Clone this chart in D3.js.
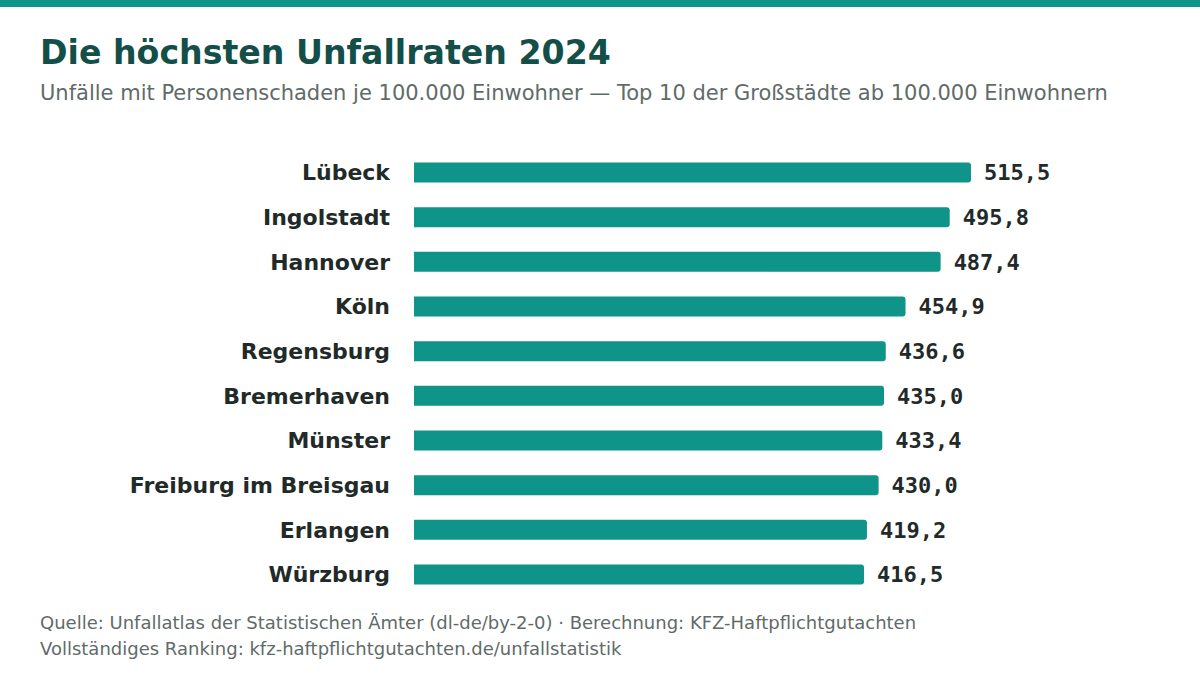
<!DOCTYPE html>
<html><head><meta charset="utf-8">
<script src="https://cdn.jsdelivr.net/npm/d3@7"></script>
<style>html,body{margin:0;padding:0;background:#fff}</style>
</head><body>
<svg id="c" width="1200" height="675"></svg>
<script>
const cities = ["Lübeck","Ingolstadt","Hannover","Köln","Regensburg","Bremerhaven","Münster","Freiburg im Breisgau","Erlangen","Würzburg"];
const rates = [515.5,495.8,487.4,454.9,436.6,435.0,433.4,430.0,419.2,416.5];
const title = "Die höchsten Unfallraten 2024";
const subtitle = "Unfälle mit Personenschaden je 100.000 Einwohner — Top 10 der Großstädte ab 100.000 Einwohnern";
const footer = ["Quelle: Unfallatlas der Statistischen Ämter (dl-de/by-2-0) · Berechnung: KFZ-Haftpflichtgutachten","Vollständiges Ranking: kfz-haftpflichtgutachten.de/unfallstatistik"];

const svg = d3.select("#c");
const teal = "#0e9488", dark = "#134e48", gray = "#5f6b69", ink = "#1f2a29";
const font = "'DejaVu Sans', sans-serif";

svg.append("rect").attr("x",0).attr("y",0).attr("width",1200).attr("height",7).attr("fill",teal);
svg.append("text").attr("x",40).attr("y",64).attr("font-family",font).attr("font-weight","bold")
  .attr("font-size",33.2).attr("fill",dark).text(title);
svg.append("text").attr("x",40).attr("y",100).attr("font-family",font)
  .attr("font-size",21).attr("fill",gray).text(subtitle);

const data = cities.map((c,i)=>({c, v:rates[i]}));
const x = d3.scaleLinear().domain([0, 515.5]).range([414, 971]);
const y = d3.scaleBand().domain(cities).range([150.2, 596.8]).paddingInner(0.552).paddingOuter(0.276);

const r = 3;
svg.append("g").selectAll("path").data(data).join("path")
  .attr("fill", teal)
  .attr("d", d => {
    const x0 = x(0), x1 = x(d.v), y0 = y(d.c), h = y.bandwidth();
    return `M${x0},${y0}H${x1-r}Q${x1},${y0} ${x1},${y0+r}V${y0+h-r}Q${x1},${y0+h} ${x1-r},${y0+h}H${x0}Z`;
  });

svg.append("g").selectAll("text").data(data).join("text")
  .attr("x", 390).attr("y", d => y(d.c)+y.bandwidth()/2).attr("dy","0.35em")
  .attr("text-anchor","end").attr("font-family",font).attr("font-weight","bold")
  .attr("font-size",22).attr("fill",ink).text(d=>d.c);

const fmt = v => v.toFixed(1).replace(".", ",");
svg.append("g").selectAll("text").data(data).join("text")
  .attr("x", d => x(d.v)+13).attr("y", d => y(d.c)+y.bandwidth()/2).attr("dy","0.35em")
  .attr("font-family","'DejaVu Sans Mono', monospace").attr("font-weight","bold")
  .attr("font-size",22).attr("fill",ink).text(d=>fmt(d.v));

svg.append("g").selectAll("text").data(footer).join("text")
  .attr("x",40).attr("y",(d,i)=>629+i*26).attr("font-family",font)
  .attr("font-size",18).attr("fill",gray).text(d=>d);
</script>
</body></html>
